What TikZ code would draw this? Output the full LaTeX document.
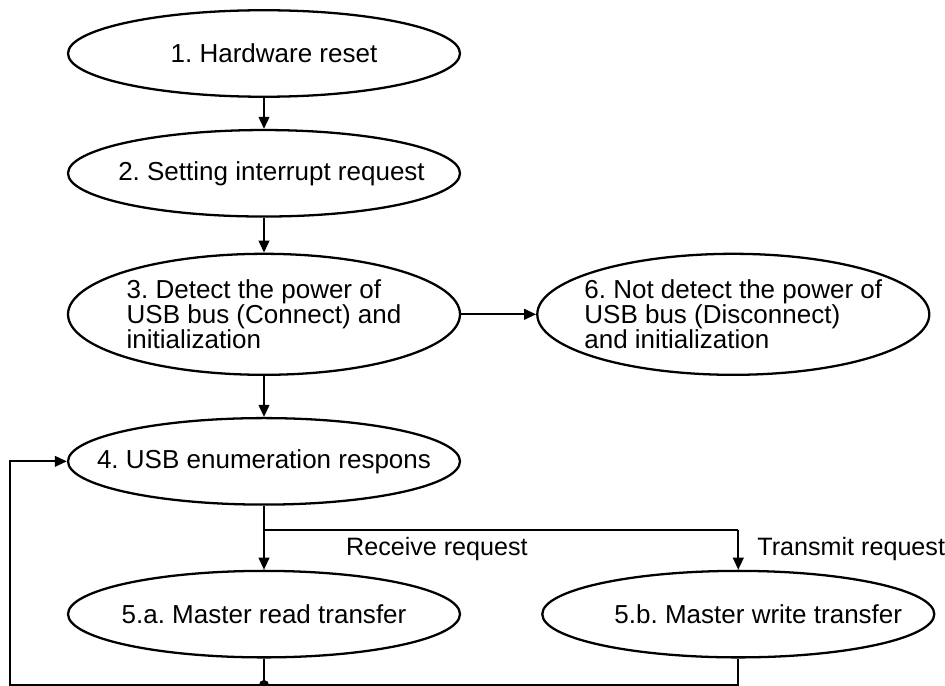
\documentclass[tikz,border=0pt]{standalone}
\usepackage{fontspec}
\setmainfont{Liberation Sans}
\usetikzlibrary{arrows.meta,positioning,shapes.geometric,calc}
\frenchspacing

\begin{document}
\begin{tikzpicture}[
  font=\fontsize{14.8pt}{14.2pt}\selectfont, >={Triangle[length=2.4mm,width=2.1mm]},
  line width=1.3pt,
  state/.style={ellipse, draw, inner xsep=-8mm, inner ysep=0pt, minimum width=78.4mm, minimum height=17.3mm, align=left},
  tall/.style={state, minimum height=24.2mm},
  lab/.style={inner sep=0pt, anchor=west, font=\fontsize{14.3pt}{14pt}\selectfont}]
\useasboundingbox (0,0) rectangle (18.9,-13.72);
\node[state] (hw) at (5.28,-1.07) {\hspace*{4mm}1. Hardware reset};
\node[state, below=6.2mm of hw] (irq) {\hspace*{3mm}2. Setting interrupt request};
\node[tall, below=7mm of irq] (det) {3. Detect the power of\\USB bus (Connect) and\\initialization};
\node[tall, right=15mm of det] (undet) {6. Not detect the power of\\USB bus (Disconnect)\\and initialization};
\node[state, below=8.2mm of det] (enum) {4. USB enumeration respons};
\node[state, below=12.8mm of enum] (rd) {5.a. Master read transfer};
\node[state, right=16mm of rd] (wr) {\hspace*{8mm}5.b. Master write transfer};
\coordinate[below=4.8mm of enum.south] (fork);
\coordinate (bot) at (0.2,-13.7);
\draw[->] (hw) -- (irq);
\draw[->] (irq) -- (det);
\draw[->] (det) -- (enum);
\draw[->] (det) -- (undet);
\draw (enum.south) -- (fork) -- (fork -| wr.north);
\draw[->] (fork) -- (rd);
\draw[->] (fork -| wr.north) -- (wr);
\node[lab] (rx) at ($(fork)+(1.62,-0.38)$) {Receive request};
\node[lab] (tx) at ($(fork -| wr.north)+(0.36,-0.38)$) {Transmit request};
\draw (rd.south) -- (rd.south |- bot);
\draw[->] (wr.south) |- (bot) |- (enum.west);
\fill (rd.south |- bot) circle (0.1);
\end{tikzpicture}
\end{document}
